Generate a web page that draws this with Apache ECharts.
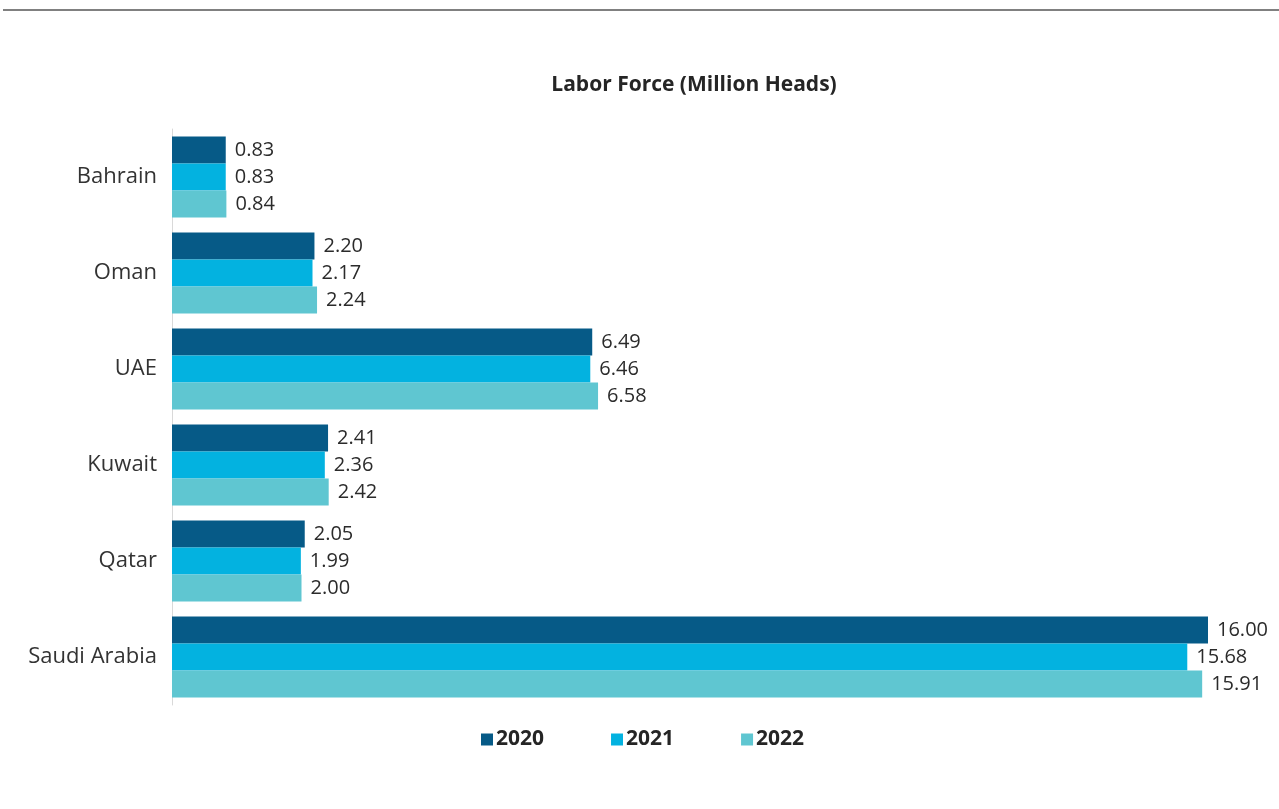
<!DOCTYPE html>
<html>
<head>
<meta charset="utf-8">
<script src="https://cdn.jsdelivr.net/npm/echarts@6/dist/echarts.min.js"></script>
<style>
  html, body { margin: 0; padding: 0; background: #fff; }
  #chart { width: 1279px; height: 809px; }
</style>
</head>
<body>
<div id="chart"></div>
<script>
// Labor force by GCC country, million heads
const countries = ['Bahrain', 'Oman', 'UAE', 'Kuwait', 'Qatar', 'Saudi Arabia'];
const years = ['2020', '2021', '2022'];
const values2020 = [0.83, 2.20, 6.49, 2.41, 2.05, 16.00];
const values2021 = [0.83, 2.17, 6.46, 2.36, 1.99, 15.68];
const values2022 = [0.84, 2.24, 6.58, 2.42, 2.00, 15.91];
const colors = ['#065A87', '#03B2E0', '#5FC6D1'];

const FONT = '"Open Sans", "Noto Sans", sans-serif';
const chart = echarts.init(document.getElementById('chart'));

function barSeries(name, data, color) {
  return {
    name: name,
    type: 'bar',
    data: data,
    barGap: '0%',
    barCategoryGap: '15.6%',
    itemStyle: { color: color },
    label: {
      show: true,
      position: 'right',
      distance: 9,
      color: '#2b2b2b',
      fontFamily: FONT,
      fontSize: 20,
      padding: [2, 0, 0, 0],
      formatter: p => p.value.toFixed(2)
    }
  };
}

chart.setOption({
  animation: false,
  color: colors,
  title: {
    text: 'Labor Force (Million Heads)',
    left: 689,
    textAlign: 'center',
    top: 70,
    textStyle: { fontFamily: FONT, fontSize: 21, fontWeight: 'bold', color: '#252525' }
  },
  legend: {
    left: 481,
    top: 729,
    padding: 0,
    itemWidth: 12,
    itemHeight: 12,
    itemGap: 67,
    icon: 'rect',
    textStyle: { fontFamily: FONT, fontSize: 21, fontWeight: 'bold', color: '#252525', padding: [0, 0, 0, -2] },
    data: years
  },
  grid: { left: 172, right: 71, top: 129, bottom: 104, containLabel: false },
  xAxis: {
    type: 'value',
    min: 0,
    max: 16,
    show: false
  },
  yAxis: {
    type: 'category',
    inverse: true,
    data: countries,
    axisLine: { show: true, lineStyle: { color: '#d9d9d9', width: 1 } },
    axisTick: { show: false },
    axisLabel: { fontFamily: FONT, fontSize: 22, color: '#333', margin: 15, padding: [4, 0, 0, 0] }
  },
  graphic: [{
    type: 'line',
    shape: { x1: 3, y1: 10, x2: 1279, y2: 10 },
    style: { stroke: '#808080', lineWidth: 2 }
  }],
  series: [
    barSeries(years[0], values2020, colors[0]),
    barSeries(years[1], values2021, colors[1]),
    barSeries(years[2], values2022, colors[2])
  ]
});
</script>
</body>
</html>
